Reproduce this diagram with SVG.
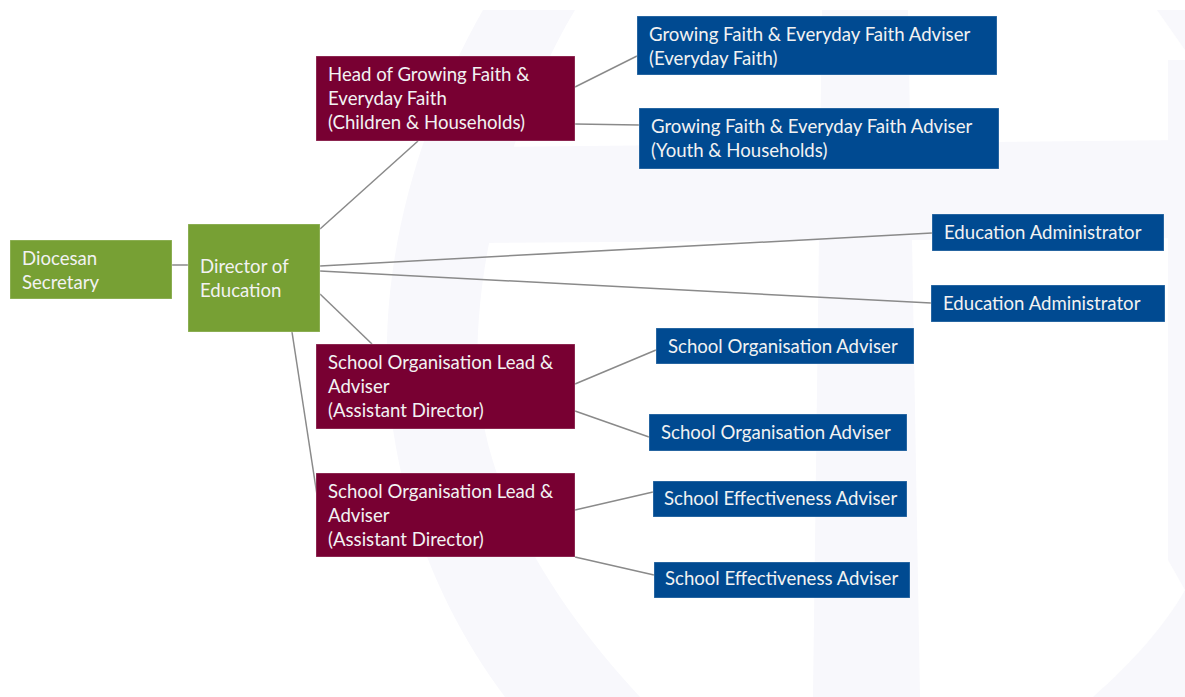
<svg xmlns="http://www.w3.org/2000/svg" width="1185" height="697" viewBox="0 0 1185 697">
  <style>
    .wm { fill: #f8f8fc; }
    .box { stroke: #ffffff; stroke-opacity: 0.3; stroke-width: 1; }
    .green { fill: #77a034; }
    .maroon { fill: #780032; }
    .blue { fill: #004a91; }
    .lbl { font-family: Lato, "Liberation Sans", sans-serif; font-size: 18.6px; fill: #f2f2f2; }
    .links line { stroke: #8a8a8a; stroke-width: 1.5; }
  </style>

  <rect width="1185" height="697" fill="#ffffff"/>

  <!-- faint background emblem -->
  <g id="emblem">
    <path class="wm" d="M483 10 C420 120 380 260 388 380 C395 500 440 610 505 697 L640 697 C560 610 485 500 478 380 C472 260 515 110 575 10 Z"/>
    <path class="wm" d="M478 147 L1185 140 L1185 238 L478 243 Z"/>
    <path class="wm" d="M822 10 L908 10 L920 697 L813 697 Z"/>
    <path class="wm" d="M1157 10 L1185 10 L1185 50 Z"/>
    <path class="wm" d="M1093 697 C1135 660 1165 625 1185 590 L1185 697 Z"/>
    <path class="wm" d="M1168 60 L1185 60 L1185 590 L1168 560 Z"/>
  </g>

  <g class="links" id="connectors">
    <line x1="172" y1="265" x2="188" y2="265"/>
    <line x1="320" y1="229" x2="418" y2="141"/>
    <line x1="320" y1="266" x2="932" y2="233"/>
    <line x1="320" y1="271" x2="931" y2="303"/>
    <line x1="320" y1="294" x2="372" y2="344"/>
    <line x1="292" y1="332" x2="317" y2="495"/>
    <line x1="575" y1="87" x2="637" y2="56"/>
    <line x1="575" y1="124" x2="639" y2="125"/>
    <line x1="575" y1="384" x2="656" y2="350"/>
    <line x1="575" y1="411" x2="649" y2="437"/>
    <line x1="575" y1="510" x2="653" y2="492"/>
    <line x1="575" y1="557" x2="654" y2="575"/>
  </g>

  <g id="diocesan-secretary">
    <rect class="box green" x="10" y="240" width="162" height="59"/>
    <text class="lbl" x="22" y="265">Diocesan</text>
    <text class="lbl" x="22" y="289">Secretary</text>
  </g>

  <g id="director-of-education">
    <rect class="box green" x="188" y="224" width="132" height="108"/>
    <text class="lbl" x="200" y="273">Director of</text>
    <text class="lbl" x="200" y="297">Education</text>
  </g>

  <g id="head-growing-faith">
    <rect class="box maroon" x="316" y="56" width="259" height="85"/>
    <text class="lbl" x="328" y="81">Head of Growing Faith &amp;</text>
    <text class="lbl" x="328" y="105">Everyday Faith</text>
    <text class="lbl" x="328" y="129">(Children &amp; Households)</text>
  </g>

  <g id="gf-adviser-everyday">
    <rect class="box blue" x="637" y="16" width="360" height="59"/>
    <text class="lbl" x="649" y="41">Growing Faith &amp; Everyday Faith Adviser</text>
    <text class="lbl" x="649" y="65">(Everyday Faith)</text>
  </g>

  <g id="gf-adviser-youth">
    <rect class="box blue" x="639" y="108" width="360" height="61"/>
    <text class="lbl" x="651" y="133">Growing Faith &amp; Everyday Faith Adviser</text>
    <text class="lbl" x="651" y="157">(Youth &amp; Households)</text>
  </g>

  <g id="education-administrator-1">
    <rect class="box blue" x="932" y="214" width="232" height="37"/>
    <text class="lbl" x="944" y="239">Education Administrator</text>
  </g>

  <g id="education-administrator-2">
    <rect class="box blue" x="931" y="285" width="234" height="37"/>
    <text class="lbl" x="943" y="310">Education Administrator</text>
  </g>

  <g id="school-org-lead-1">
    <rect class="box maroon" x="316" y="344" width="259" height="85"/>
    <text class="lbl" x="328" y="369">School Organisation Lead &amp;</text>
    <text class="lbl" x="328" y="393">Adviser</text>
    <text class="lbl" x="328" y="417">(Assistant Director)</text>
  </g>

  <g id="school-org-lead-2">
    <rect class="box maroon" x="316" y="473" width="259" height="84"/>
    <text class="lbl" x="328" y="498">School Organisation Lead &amp;</text>
    <text class="lbl" x="328" y="522">Adviser</text>
    <text class="lbl" x="328" y="546">(Assistant Director)</text>
  </g>

  <g id="school-org-adviser-1">
    <rect class="box blue" x="656" y="328" width="258" height="36"/>
    <text class="lbl" x="668" y="353">School Organisation Adviser</text>
  </g>

  <g id="school-org-adviser-2">
    <rect class="box blue" x="649" y="414" width="258" height="37"/>
    <text class="lbl" x="661" y="439">School Organisation Adviser</text>
  </g>

  <g id="school-eff-adviser-1">
    <rect class="box blue" x="653" y="481" width="254" height="36"/>
    <text class="lbl" x="664" y="505">School Effectiveness Adviser</text>
  </g>

  <g id="school-eff-adviser-2">
    <rect class="box blue" x="654" y="562" width="256" height="36"/>
    <text class="lbl" x="665" y="585">School Effectiveness Adviser</text>
  </g>
</svg>
